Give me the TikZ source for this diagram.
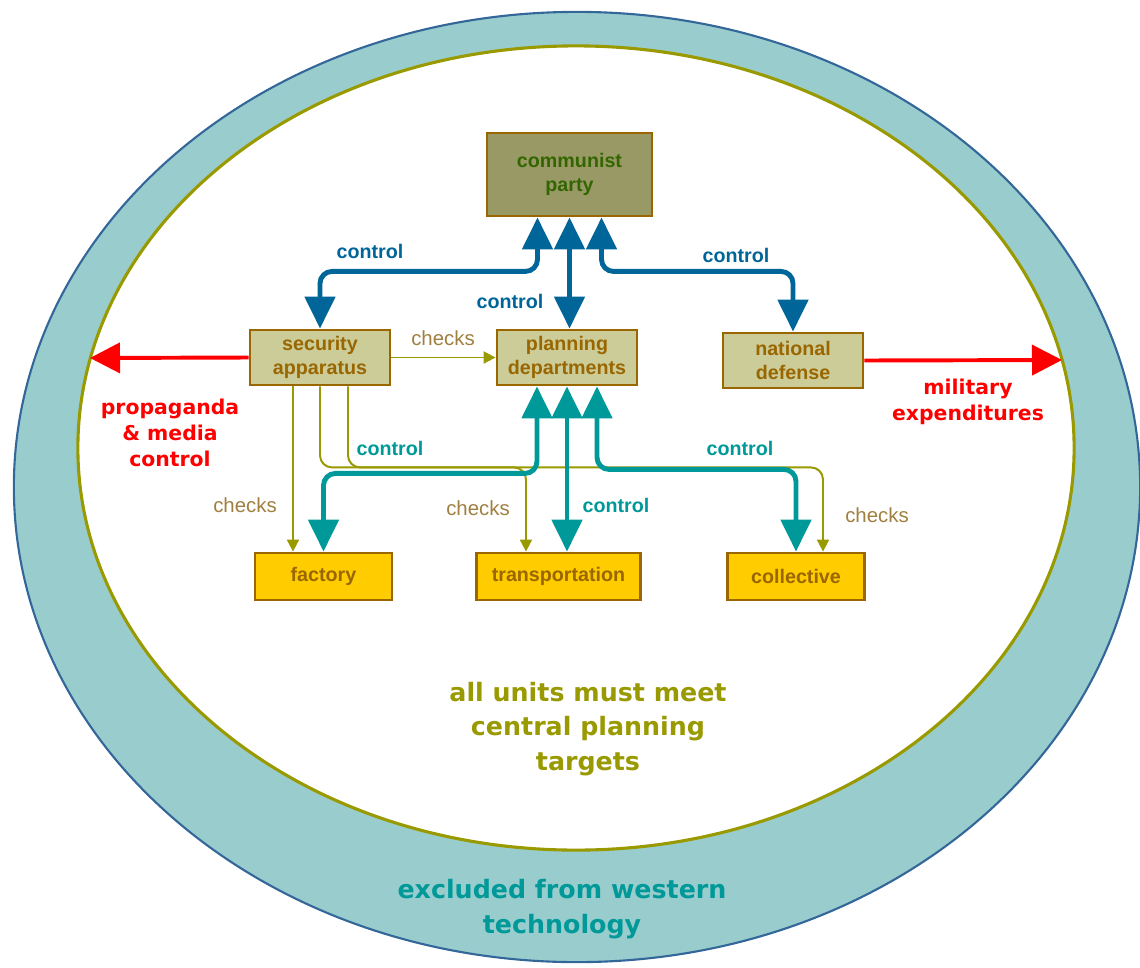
\documentclass[tikz,border=0pt]{standalone}
\usepackage{fontspec}
\setmainfont{Liberation Sans}
\newfontfamily\widefont{DejaVu Sans}
\usetikzlibrary{arrows.meta,positioning}

\definecolor{ringfill}{RGB}{153,204,204}
\definecolor{ringline}{RGB}{51,102,153}
\definecolor{olivec}{RGB}{153,153,0}
\definecolor{ctrlblue}{RGB}{0,102,153}
\definecolor{ctrlteal}{RGB}{0,153,153}
\definecolor{boxbrown}{RGB}{153,102,0}
\definecolor{khaki}{RGB}{204,204,153}
\definecolor{partyfill}{RGB}{153,153,102}
\definecolor{partytext}{RGB}{51,102,0}
\definecolor{unitgold}{RGB}{255,204,0}
\definecolor{checktext}{RGB}{160,128,64}

\tikzset{
	upperbox/.style={draw=boxbrown, line width=2pt, fill=khaki, text=boxbrown, align=center, inner sep=0pt,
		font=\bfseries\fontsize{14}{17}\selectfont, minimum width=3.5cm, minimum height=1.375cm},
	partybox/.style={upperbox, fill=partyfill, text=partytext, minimum width=4.125cm, minimum height=2.075cm},
	unitbox/.style={upperbox, fill=unitgold, font=\bfseries\fontsize{14}{16}\selectfont, minimum width=3.425cm, minimum height=1.175cm},
	bluectrl/.style={draw=ctrlblue, line width=3.5pt, rounded corners=0.3cm, <->, >={Triangle[width=0.75cm,length=0.8cm]}},
	tealctrl/.style={bluectrl, draw=ctrlteal},
	checkline/.style={draw=olivec, line width=1.4pt, rounded corners=0.3cm, ->, >={Triangle[width=0.3cm,length=0.3cm]}},
	redarrow/.style={draw=red, line width=2.8pt, ->, >={Triangle[width=0.75cm,length=0.75cm]}},
	ctrllabel/.style={text=ctrlblue, font=\bfseries\fontsize{14}{17}\selectfont},
	checklabel/.style={text=checktext, font=\fontsize{14.5}{17}\selectfont},
	bigtext/.style={align=center, font=\widefont\bfseries\fontsize{18}{24.8}\selectfont},
	redtext/.style={text=red, align=center, font=\widefont\bfseries\fontsize{14.5}{18.4}\selectfont}
}

\begin{document}
\begin{tikzpicture}[x=0.025cm, y=-0.025cm]
	\useasboundingbox (0,0) rectangle (1140,968);

	% outer ring and inner field
	\draw[ringline, fill=ringfill, line width=1.5pt] (577,487) ellipse [x radius=14.075cm, y radius=11.875cm];
	\draw[olivec, fill=white, line width=2.2pt] (576,448) ellipse [x radius=12.45cm, y radius=10.05cm];

	\node[partybox] (cp) at (569.5,174.5) {communist\\party};
	\node[upperbox] (sa) at (320,357.5) {security\\apparatus};
	\node[upperbox] (pd) at (567,357.5) {planning\\departments};
	\node[upperbox] (nd) at (793,360.5) {national\\defense};
	\node[unitbox] (fac) at (323.5,576.5) {factory};
	\node[unitbox, minimum width=4.1cm] (tr) at (558.5,576.5) {transportation};
	\node[unitbox] (col) at (796,576.5) {collective};

	% checks from the security apparatus
	\draw[checkline] (sa.east) -- (pd.west);
	\draw[checkline] ([xshift=-0.675cm]sa.south) -- ([xshift=-0.675cm]sa.south |- fac.north);
	\draw[checkline] (sa.south) -- ++(0,81) -| ([xshift=-0.8125cm]tr.north);
	\draw[checkline] ([xshift=0.7cm]sa.south) -- ++(0,81) -| ([xshift=0.675cm]col.north);

	% control from the planning departments
	\draw[tealctrl] ([xshift=-0.75cm]pd.south) -- ++(0,87) -| (fac.north);
	\draw[tealctrl] (pd.south) -- (pd.south |- tr.north);
	\draw[tealctrl] ([xshift=0.75cm]pd.south) -- ++(0,83) -| (col.north);

	% control from the party
	\draw[bluectrl] ([xshift=-0.8cm]cp.south) -- ++(0,54) -| (sa.north);
	\draw[bluectrl] (cp.south) -- (cp.south |- pd.north);
	\draw[bluectrl] ([xshift=0.8cm]cp.south) -- ++(0,54) -| (nd.north);

	\coordinate (propend) at (90,358);
	\coordinate (miliend) at (1062,360);
	\draw[redarrow] (sa.west) -- (propend);
	\draw[redarrow] (nd.east) -- (miliend);

	\node[ctrllabel] (cpsa) at (370,251) {control};
	\node[ctrllabel] (cppd) at (510,301) {control};
	\node[ctrllabel] (cpnd) at (736,255) {control};
	\node[ctrllabel, text=ctrlteal] (pdfac) at (390,448) {control};
	\node[ctrllabel, text=ctrlteal] (pdtr) at (616,505) {control};
	\node[ctrllabel, text=ctrlteal] (pdcol) at (740,448) {control};

	\node[checklabel] (sapd) at (443,338) {checks};
	\node[checklabel] (safac) at (245,505) {checks};
	\node[checklabel] (satr) at (478,508) {checks};
	\node[checklabel] (sacol) at (877,515) {checks};

	\node[redtext] (prop) at (170,433) {propaganda\\\& media\\control};
	\node[redtext] (mili) at (968,402) {military\\expenditures};

	\node[bigtext, text=olivec] (targets) at (588,729) {all units must meet\\central planning\\targets};
	\node[bigtext, text=ctrlteal] (western) at (562,909) {excluded from western\\technology};
\end{tikzpicture}
\end{document}
